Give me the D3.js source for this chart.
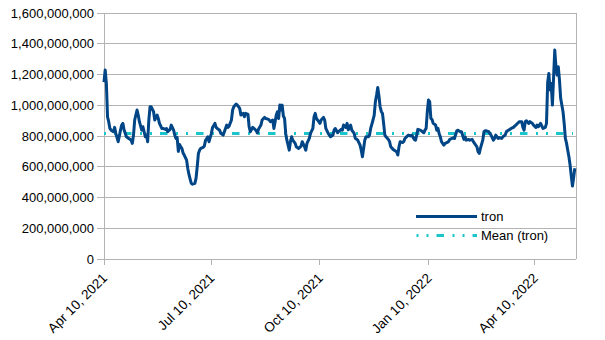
<!DOCTYPE html>
<html><head><meta charset="utf-8">
<script src="https://cdn.jsdelivr.net/npm/d3@7/dist/d3.min.js"></script>
<style>
html,body{margin:0;padding:0;background:#fff;}
svg{display:block;font-family:"Liberation Sans",Arial,sans-serif;}
</style></head>
<body>
<svg id="chart" width="605" height="340"></svg>
<script>
// ---- data ----
const startDate = "2021-04-10";
const endDate = "2022-05-15";
const xTickLabels = ["Apr 10, 2021","Jul 10, 2021","Oct 10, 2021","Jan 10, 2022","Apr 10, 2022"];
const xTickDates = ["2021-04-10","2021-07-10","2021-10-10","2022-01-10","2022-04-10"];
const yTicks = [0,200e6,400e6,600e6,800e6,1000e6,1200e6,1400e6,1600e6];
const seriesNames = ["tron","Mean (tron)"];
const tronMean = 817e6;
// day offset from startDate
const tronDays = [0,1,2,3,4,5,6,8,9,10,12,14,15,16,17,19,21,23,24,25,26,28,29,30,32,33,35,36,37,38,39,40,42,43,45,46,47,49,50,52,53,54,56,57,59,60,61,62,63,64,65,66,67,68,69,70,71,72,73,74,75,77,78,79,80,81,82,84,85,86,88,89,91,92,94,95,96,98,99,101,102,104,105,106,108,109,110,112,113,115,116,118,119,120,122,123,124,126,128,129,130,131,133,134,136,137,139,140,141,143,144,146,147,148,149,150,151,152,153,154,155,157,158,159,160,162,163,165,167,168,170,171,172,174,175,177,178,179,180,181,183,184,186,187,188,190,192,194,195,196,198,199,201,202,203,205,206,207,209,210,212,213,214,215,217,218,219,220,221,222,224,225,226,228,229,230,231,232,233,234,235,236,237,238,239,241,242,243,245,246,248,249,250,251,253,254,255,257,258,260,261,262,263,264,265,266,268,269,271,272,273,274,275,276,277,278,279,281,282,283,284,285,286,288,289,290,292,293,295,296,297,299,300,302,303,305,306,307,309,310,312,313,314,316,317,318,319,321,322,323,324,326,327,328,329,330,331,332,334,335,337,338,340,341,342,344,345,347,348,349,351,352,354,355,356,357,358,360,361,363,364,366,367,368,370,371,372,374,375,376,377,378,379,380,381,382,383,384,385,386,387,388,389,390,391,392,393,394,395,396,397,398,399];
// values in millions
const tronValues = [1150,1230,1142,925,893,849,838,828,856,817,763,838,871,882,840,795,784,773,752,806,904,969,936,893,838,860,795,806,763,904,990,990,958,904,936,914,882,849,849,843,849,828,843,871,838,806,784,790,700,745,730,720,690,676,660,643,589,550,520,492,487,492,524,600,686,708,719,726,734,770,795,763,817,856,882,856,849,838,817,806,828,871,856,864,904,969,990,1008,1001,980,936,947,925,947,940,860,828,856,843,834,820,845,871,904,921,914,910,904,893,904,849,936,958,914,1001,969,1001,930,914,817,773,708,763,795,773,752,730,719,734,763,730,708,752,784,817,849,925,947,914,904,882,904,921,904,849,817,795,806,838,849,821,830,843,838,871,856,882,840,871,838,817,784,780,773,741,708,665,719,773,795,795,806,849,904,936,1023,1066,1116,1060,990,960,947,880,806,795,778,763,730,713,708,698,676,730,763,757,763,784,799,806,800,806,791,778,773,806,843,838,834,821,838,849,958,1034,1023,914,907,882,871,838,850,817,795,763,741,752,755,763,778,784,788,784,834,838,828,828,778,795,773,778,773,778,763,752,730,698,687,719,773,828,834,834,828,817,806,790,773,784,806,784,790,784,795,806,828,834,843,849,856,864,871,886,893,893,856,838,893,899,882,893,882,871,856,871,860,882,866,849,856,882,1150,1207,1100,1142,1001,1180,1359,1250,1196,1250,1164,1045,1001,958,880,784,752,708,665,611,540,475,530,590];

// ---- layout ----
const svg = d3.select("#chart");
const L = 104, R = 576, T = 13, B = 259;
const parse = d3.utcParse("%Y-%m-%d");
const t0 = parse(startDate);
const x = d3.scaleUtc().domain([t0, parse(endDate)]).range([L, R]);
const y = d3.scaleLinear().domain([0, 1600e6]).range([B, T]);
const data = tronDays.map((d, i) => ({date: d3.utcDay.offset(t0, d), value: tronValues[i] * 1e6}));

const gridColor = "#b3b3b3";
// gridlines
svg.append("g").selectAll("line").data(yTicks).join("line")
  .attr("x1", L - 7).attr("x2", R)
  .attr("y1", d => y(d)).attr("y2", d => y(d))
  .attr("stroke", gridColor).attr("stroke-width", 1).attr("shape-rendering","crispEdges");
// left axis & right border
svg.append("line").attr("x1", L).attr("x2", L).attr("y1", T).attr("y2", B + 6)
  .attr("stroke", gridColor).attr("shape-rendering","crispEdges");
svg.append("line").attr("x1", R).attr("x2", R).attr("y1", T).attr("y2", B)
  .attr("stroke", gridColor).attr("shape-rendering","crispEdges");

// y labels
const fmt = d3.format(",");
svg.append("g").selectAll("text").data(yTicks).join("text")
  .attr("x", L - 10).attr("y", d => y(d)).attr("dy", "0.35em")
  .attr("text-anchor", "end").attr("font-size", 13).attr("fill", "#000")
  .text(d => fmt(d));

// x ticks
const xt = xTickDates.map(parse);
svg.append("g").selectAll("line").data(xt).join("line")
  .attr("x1", d => x(d)).attr("x2", d => x(d)).attr("y1", B).attr("y2", B + 6)
  .attr("stroke", gridColor).attr("shape-rendering","crispEdges");
svg.append("g").selectAll("text").data(xt).join("text")
  .attr("transform", d => `translate(${x(d) + 4},${B + 20}) rotate(-45)`)
  .attr("text-anchor", "end").attr("font-size", 13.5).attr("fill", "#000")
  .text((d, i) => xTickLabels[i]);

// mean line
const meanColor = "#1ac6cc";
const dash = "7.5,8.5,2,8,2,8";
svg.append("line").attr("x1", L).attr("x2", R - 3).attr("y1", y(tronMean)).attr("y2", y(tronMean))
  .attr("stroke", meanColor).attr("stroke-width", 3).attr("stroke-dasharray", dash)
  .attr("stroke-dashoffset", 16);

// series line
const lineColor = "#004586";
svg.append("path").datum(data)
  .attr("d", d3.line().x(d => x(d.date)).y(d => y(d.value)))
  .attr("fill", "none").attr("stroke", lineColor).attr("stroke-width", 3).attr("stroke-linejoin","round");

// legend
const lg = svg.append("g");
lg.append("line").attr("x1", 416).attr("x2", 477).attr("y1", 216.5).attr("y2", 216.5)
  .attr("stroke", lineColor).attr("stroke-width", 3);
lg.append("text").attr("x", 481).attr("y", 216.5).attr("dy","0.35em").attr("font-size", 13).text(seriesNames[0]);
lg.append("line").attr("x1", 416).attr("x2", 477).attr("y1", 235.5).attr("y2", 235.5)
  .attr("stroke", meanColor).attr("stroke-width", 3).attr("stroke-dasharray", dash)
  .attr("stroke-dashoffset", 15.5);
lg.append("text").attr("x", 481).attr("y", 235.5).attr("dy","0.35em").attr("font-size", 13).text(seriesNames[1]);
</script>
</body></html>
